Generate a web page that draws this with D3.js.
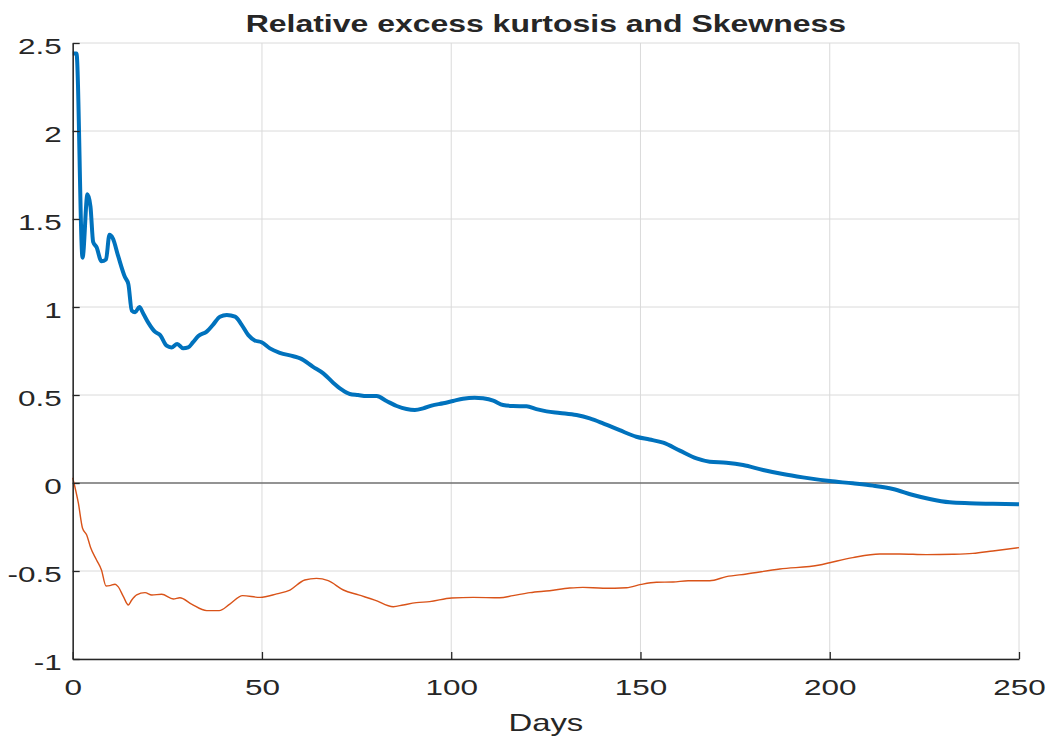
<!DOCTYPE html>
<html>
<head>
<meta charset="utf-8">
<script src="https://cdn.jsdelivr.net/npm/d3@7"></script>
<style>
  html, body { margin: 0; padding: 0; background: #ffffff; }
  svg { display: block; }
  text { font-family: "Liberation Sans", Arial, Helvetica, sans-serif; fill: #262626; }
</style>
</head>
<body>
<svg id="chart" width="1048" height="736"></svg>
<script>
// Relative excess kurtosis (blue) and skewness (orange) against horizon in days
const kurtDays = [0, 1, 2.6, 3.9, 4.7, 5.4, 6.3, 7.6, 8.8, 9.7, 10.6, 12.0, 13.8, 14.7, 15.6, 16.5, 17.6, 18.7, 20, 21.7,
  23.1, 24.8, 26.1, 27.6, 29.2, 30.5, 31.8, 33.2, 35.4, 37.1, 38.9, 40.7, 42.9, 44.6, 46.4, 48.1, 49.9, 52.1, 54.7, 58.3,
  60.1, 63.5, 66.2, 68.8, 71.0, 73.2, 75.4, 77.6, 80.3, 82.9, 85.6, 88.2, 90.4, 92.6, 94.8, 97.9, 100.5, 103.1, 106.2, 108.4,
  111.1, 113.7, 116.3, 119.9, 122.5, 125.2, 128.7, 133.1, 136.6, 140.1, 144.5, 148.9, 152.4, 156, 160.4, 164.8, 168.3, 172.7,
  177.1, 182.4, 187.6, 192.9, 200, 206.1, 211.4, 216.7, 222, 226.4, 231.7, 236.9, 243.1, 250];
const kurtValues = [2.44, 2.44, 1.28, 1.64, 1.57, 1.37, 1.34, 1.26, 1.27, 1.41, 1.39, 1.29, 1.17, 1.13, 0.98, 0.97, 1.00, 0.96, 0.91, 0.86,
  0.84, 0.78, 0.77, 0.79, 0.765, 0.77, 0.80, 0.835, 0.86, 0.90, 0.945, 0.955, 0.945, 0.90, 0.84, 0.81, 0.80, 0.765, 0.74, 0.72,
  0.708, 0.66, 0.623, 0.57, 0.532, 0.506, 0.50, 0.494, 0.494, 0.466, 0.4375, 0.42, 0.415, 0.424, 0.44, 0.453, 0.466, 0.479, 0.485, 0.481,
  0.468, 0.443, 0.4375, 0.436, 0.42, 0.407, 0.398, 0.386, 0.367, 0.339, 0.30, 0.263, 0.247, 0.229, 0.184, 0.14, 0.121, 0.115,
  0.102, 0.074, 0.051, 0.032, 0.011, -0.002, -0.015, -0.034, -0.068, -0.091, -0.11, -0.115, -0.118, -0.121];

const skewDays = [0, 1.5, 2.6, 3.7, 4.7, 6.3, 7.6, 8.8, 9.8, 11.2, 12.0, 13.4, 14.7, 15.6, 16.9, 19.1, 20.9, 23.5, 26.6, 28.3,
  31.4, 35.4, 38.7, 41.5, 44.9, 49.5, 53.9, 57.4, 61.3, 64.4, 67.5, 71.5, 75.5, 79.8, 84.7, 87.3, 90.8, 94.3, 100.1, 105.8,
  112.8, 116.3, 120.8, 126, 131.3, 134.8, 140.1, 146.3, 150.2, 154.2, 158.6, 162.6, 168.3, 172.7, 178, 186.8, 197.3, 200, 206.1, 213.2,
  218.5, 225.5, 232.5, 237.8, 243.1, 250];
const skewValues = [0.03, -0.115, -0.257, -0.295, -0.365, -0.4375, -0.494, -0.585, -0.583, -0.575, -0.589, -0.646, -0.693, -0.665, -0.636, -0.623, -0.636, -0.632, -0.659, -0.652,
  -0.688, -0.725, -0.725, -0.688, -0.64, -0.65, -0.63, -0.608, -0.551, -0.542, -0.555, -0.608, -0.636, -0.665, -0.703, -0.693, -0.68, -0.674, -0.653, -0.65,
  -0.652, -0.64, -0.623, -0.612, -0.597, -0.593, -0.598, -0.595, -0.576, -0.564, -0.5625, -0.555, -0.555, -0.532, -0.517, -0.489, -0.466, -0.453, -0.424, -0.403,
  -0.403, -0.407, -0.405, -0.40, -0.386, -0.367];

const xTicks = [0, 50, 100, 150, 200, 250];
const yTicks = [-1, -0.5, 0, 0.5, 1, 1.5, 2, 2.5];
const titleText = "Relative excess kurtosis and Skewness";
const xLabel = "Days";

// Layout
const plotLeft = 72.7, plotRight = 1019, plotTop = 43, plotBottom = 659;
const stretch = 1.43;   // wide lettering of the figure
const axisColor = "#262626";

const svg = d3.select("#chart");
const x = d3.scaleLinear().domain([0, 250]).range([plotLeft, plotRight]);
const y = d3.scaleLinear().domain([-1, 2.5]).range([plotBottom, plotTop]);

// Grid
const grid = svg.append("g").attr("stroke", "#dadada").attr("stroke-width", 1);
grid.selectAll("line.gx").data(xTicks).join("line")
  .attr("class", "gx")
  .attr("x1", d => x(d)).attr("x2", d => x(d))
  .attr("y1", plotTop).attr("y2", plotBottom);
grid.selectAll("line.gy").data(yTicks).join("line")
  .attr("class", "gy")
  .attr("x1", plotLeft).attr("x2", plotRight)
  .attr("y1", d => y(d)).attr("y2", d => y(d));

// Zero reference line
svg.append("line")
  .attr("x1", x(0)).attr("x2", x(250))
  .attr("y1", y(0)).attr("y2", y(0))
  .attr("stroke", "#3a3a3a").attr("stroke-width", 1.2);

// Series
const line = d3.line().curve(d3.curveMonotoneX).x(d => x(d[0])).y(d => y(d[1]));
svg.append("path")
  .datum(d3.zip(skewDays, skewValues))
  .attr("fill", "none").attr("stroke", "#D95319").attr("stroke-width", 1.4)
  .attr("stroke-linejoin", "round").attr("d", line);
svg.append("path")
  .datum(d3.zip(kurtDays, kurtValues))
  .attr("fill", "none").attr("stroke", "#0072BD").attr("stroke-width", 4)
  .attr("stroke-linejoin", "round").attr("d", line);

// Axes (ticks point inward)
const xAxis = svg.append("g").attr("transform", `translate(0,${plotBottom})`)
  .call(d3.axisBottom(x).tickValues(xTicks).tickSize(-7).tickSizeOuter(0).tickFormat(d3.format("d")));
const yAxis = svg.append("g").attr("transform", `translate(${plotLeft},0)`)
  .call(d3.axisLeft(y).tickValues(yTicks).tickSize(-7).tickSizeOuter(0).tickFormat(d => String(d)));

[xAxis, yAxis].forEach(g => {
  g.select(".domain").attr("stroke", axisColor).attr("stroke-width", 1.5);
  g.selectAll(".tick line").attr("stroke", axisColor).attr("stroke-width", 1.3);
  g.selectAll(".tick text").attr("fill", axisColor).style("font-size", "22px")
    .style("font-family", "'Liberation Sans', Arial, sans-serif");
});
xAxis.selectAll(".tick text")
  .attr("y", 0).attr("dy", null)
  .attr("transform", `translate(0,36) scale(${stretch},1)`);
yAxis.selectAll(".tick text")
  .attr("x", 0).attr("dy", null)
  .attr("transform", `translate(-11,10) scale(${stretch},1)`);

// Title and axis label
svg.append("text")
  .attr("transform", `translate(${(plotLeft + plotRight) / 2},31.5) scale(1.39,1)`)
  .attr("text-anchor", "middle")
  .style("font-size", "23px").style("font-weight", "bold").attr("fill", "#111")
  .text(titleText);
svg.append("text")
  .attr("transform", `translate(${(plotLeft + plotRight) / 2},731) scale(${stretch},1)`)
  .attr("text-anchor", "middle")
  .style("font-size", "23px").attr("fill", axisColor)
  .text(xLabel);
</script>
</body>
</html>
